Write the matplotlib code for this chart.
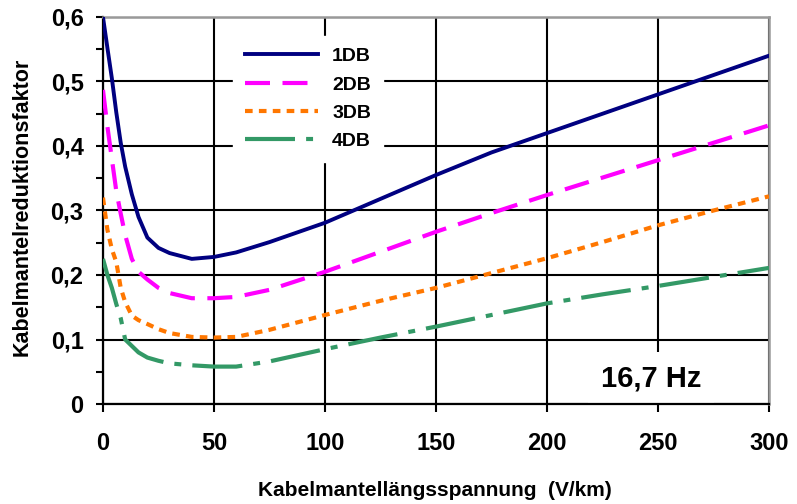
import matplotlib
matplotlib.use('Agg')
import matplotlib.pyplot as plt
from matplotlib.ticker import MultipleLocator, FuncFormatter

plt.rcParams['font.family'] = ['Liberation Sans', 'DejaVu Sans']
plt.rcParams['font.weight'] = 'bold'
plt.rcParams['lines.scale_dashes'] = False

# Kabelmantellängsspannung (V/km)
spannung = [0, 2, 4, 6, 8, 10, 13, 16, 20, 25, 30, 40, 50, 60, 75,
            100, 125, 150, 175, 200, 225, 250, 275, 300]

# Reduktionsfaktor for each cable type
db1 = [0.600, 0.552, 0.505, 0.452, 0.405, 0.368, 0.325, 0.290, 0.258, 0.242,
       0.234, 0.225, 0.228, 0.235, 0.251, 0.281, 0.318, 0.355, 0.390, 0.420,
       0.450, 0.480, 0.510, 0.540]
db2 = [0.487, 0.430, 0.380, 0.330, 0.295, 0.262, 0.225, 0.205, 0.193, 0.180,
       0.172, 0.164, 0.164, 0.166, 0.177, 0.205, 0.236, 0.267, 0.296, 0.324,
       0.351, 0.378, 0.405, 0.432]
db3 = [0.320, 0.270, 0.240, 0.220, 0.180, 0.158, 0.137, 0.130, 0.124, 0.116,
       0.110, 0.104, 0.103, 0.104, 0.115, 0.138, 0.160, 0.180, 0.203, 0.226,
       0.251, 0.277, 0.300, 0.322]
db4 = [0.225, 0.200, 0.180, 0.155, 0.133, 0.100, 0.090, 0.080, 0.072, 0.067,
       0.063, 0.060, 0.058, 0.058, 0.066, 0.085, 0.103, 0.120, 0.138, 0.156,
       0.170, 0.183, 0.197, 0.211]

labels = ['1DB', '2DB', '3DB', '4DB']

fig = plt.figure(figsize=(7.97, 5.04), dpi=100)
ax = fig.add_axes([0.1292, 0.1984, 0.8357, 0.7679])

ax.plot(spannung, db1, color='#000080', lw=2.8, label=labels[0], zorder=3)
ax.plot(spannung, db2, color='#FF00FF', lw=3.0, ls=(0, (18, 9)), label=labels[1], zorder=3)
ax.plot(spannung, db3, color='#FF7700', lw=3.0, ls=(0, (5.5, 4.5)), label=labels[2], zorder=3)
ax.plot(spannung, db4, color='#339966', lw=3.0, ls=(0, (36, 8, 5, 8)), label=labels[3], zorder=3)

ax.set_xlim(0, 300)
ax.set_ylim(0, 0.6)
ax.xaxis.set_major_locator(MultipleLocator(50))
ax.yaxis.set_major_locator(MultipleLocator(0.1))
ax.yaxis.set_minor_locator(MultipleLocator(0.05))
ax.yaxis.set_major_formatter(FuncFormatter(lambda v, p: ('%g' % round(v, 2)).replace('.', ',')))

ax.set_axisbelow(True)
ax.grid(True, which='major', color='black', lw=1.5)
ax.tick_params(axis='both', which='both', direction='out', width=1.5, labelsize=17)
ax.tick_params(axis='x', which='major', length=6, pad=14)
ax.tick_params(axis='y', which='major', length=5, pad=9)
ax.tick_params(axis='y', which='minor', length=5)

for side in ['left', 'bottom']:
    ax.spines[side].set_color('black')
    ax.spines[side].set_linewidth(1.6)
for side in ['top', 'right']:
    ax.spines[side].set_color('#999999')
    ax.spines[side].set_linewidth(1.8)

leg = ax.legend(loc='upper left', bbox_to_anchor=(0.195, 0.951), borderaxespad=0,
                fontsize=14, handlelength=3.8, handletextpad=0.7, labelspacing=0.55,
                frameon=True, fancybox=False, framealpha=1, borderpad=0.6)
leg.get_frame().set_facecolor('white')
leg.get_frame().set_edgecolor('white')
leg.set_zorder(5)

ax.text(0.823, 0.067, '16,7 Hz', transform=ax.transAxes, ha='center', va='center',
        fontsize=21, fontweight='bold', zorder=1,
        bbox=dict(facecolor='white', edgecolor='none', pad=9))

fig.text(435 / 797, 1 - 490 / 504, 'Kabelmantellängsspannung  (V/km)',
         ha='center', va='center', fontsize=15, fontweight='bold')
fig.text(22 / 797, 1 - 207 / 504, 'Kabelmantelreduktionsfaktor',
         ha='center', va='center', rotation=90, fontsize=15.5, fontweight='bold')

fig.savefig('out.png', dpi=100)
